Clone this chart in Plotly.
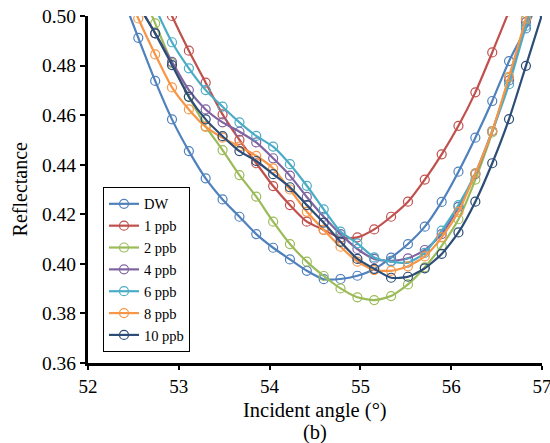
import plotly.graph_objects as go

angles = [52.368, 52.554, 52.740, 52.925, 53.111, 53.296, 53.482, 53.668, 53.853,
          54.039, 54.224, 54.410, 54.596, 54.781, 54.967, 55.152, 55.338, 55.524,
          55.709, 55.895, 56.080, 56.266, 56.452, 56.637, 56.823, 57.008]

dw = [0.509, 0.4912, 0.4738, 0.4583, 0.4455, 0.4345, 0.4260, 0.4190, 0.4120, 0.4065,
      0.4018, 0.3972, 0.3938, 0.3939, 0.3952, 0.3978, 0.4025, 0.4080, 0.4150, 0.4250,
      0.4372, 0.4509, 0.4657, 0.4818, 0.4950, 0.510]
ppb1 = [0.548, 0.531, 0.515, 0.500, 0.4860, 0.4731, 0.4603, 0.4500, 0.4406, 0.4314,
        0.4237, 0.4170, 0.4137, 0.4105, 0.4107, 0.4139, 0.4190, 0.4251, 0.4340, 0.4442,
        0.4557, 0.4692, 0.4853, 0.502, 0.520, 0.540]
ppb2 = [0.530, 0.513, 0.4970, 0.4810, 0.4675, 0.4555, 0.4459, 0.4358, 0.4271, 0.4170,
        0.4080, 0.4009, 0.3951, 0.3901, 0.3865, 0.3854, 0.3870, 0.3917, 0.3986, 0.4073,
        0.4180, 0.4340, 0.4530, 0.4750, 0.4985, 0.522]
ppb4 = [0.520, 0.505, 0.4930, 0.4815, 0.4701, 0.4623, 0.4571, 0.4533, 0.4490, 0.4426,
        0.4356, 0.4270, 0.4190, 0.4120, 0.4060, 0.4020, 0.4012, 0.4022, 0.4056, 0.4120,
        0.4230, 0.4362, 0.4536, 0.4740, 0.4975, 0.520]
ppb6 = [0.540, 0.520, 0.5035, 0.4894, 0.4789, 0.4701, 0.4634, 0.4571, 0.4516, 0.4473,
        0.4402, 0.4315, 0.4220, 0.4130, 0.4083, 0.4026, 0.4009, 0.4005, 0.4044, 0.4134,
        0.4237, 0.4365, 0.4536, 0.4725, 0.4960, 0.520]
ppb8 = [0.515, 0.4990, 0.4845, 0.4712, 0.4623, 0.4553, 0.4509, 0.4473, 0.4436, 0.4385,
        0.4300, 0.4210, 0.4137, 0.4069, 0.4009, 0.3975, 0.3972, 0.3990, 0.4030, 0.4107,
        0.4210, 0.4365, 0.4536, 0.4755, 0.4990, 0.525]
ppb10 = [0.520, 0.5045, 0.4930, 0.4802, 0.4674, 0.4583, 0.4515, 0.4455, 0.4415, 0.4362,
         0.4309, 0.4237, 0.4166, 0.4089, 0.4020, 0.3980, 0.3944, 0.3948, 0.3982, 0.4040,
         0.4127, 0.4251, 0.4406, 0.4584, 0.4799, 0.5015]

names = ["DW", "1 ppb", "2 ppb", "4 ppb", "6 ppb", "8 ppb", "10 ppb"]
series = [dw, ppb1, ppb2, ppb4, ppb6, ppb8, ppb10]
colors = ["#4F81BD", "#C0504D", "#9BBB59", "#8064A2", "#4BACC6", "#F79646", "#2C4D75"]

xticks = [52, 53, 54, 55, 56, 57]
yticks = [0.36, 0.38, 0.40, 0.42, 0.44, 0.46, 0.48, 0.50]
x_title = "Incident angle (°)"
sub_label = "(b)"
y_title = "Reflectance"

FONT = "Liberation Serif"

fig = go.Figure()
for name, ys, c in zip(names, series, colors):
    fig.add_trace(go.Scatter(
        x=angles, y=ys, name=name, mode="lines+markers",
        line=dict(color=c, width=2.2, shape="spline", smoothing=0.6),
        marker=dict(symbol="circle-open", size=9, color=c, line=dict(width=1.2, color=c)),
    ))

fig.update_layout(
    width=550, height=443,
    margin=dict(l=88, r=8, t=16, b=80, autoexpand=False),
    paper_bgcolor="white", plot_bgcolor="white",
    font=dict(family=FONT, size=17, color="black"),
    legend=dict(
        x=0.033, y=0.032, xanchor="left", yanchor="bottom",
        bordercolor="black", borderwidth=1, bgcolor="white",
        font=dict(family=FONT, size=14.5, color="black"),
        tracegroupgap=0, itemwidth=30,
    ),
    xaxis=dict(
        range=[52, 57], tickmode="array", tickvals=xticks,
        ticktext=[str(v) for v in xticks],
        showline=True, linecolor="black", linewidth=3,
        ticks="outside", ticklen=4, tickwidth=2, tickcolor="black",
        showgrid=False, zeroline=False, automargin=False,
        ticklabeloverflow="allow",
        tickfont=dict(family=FONT, size=19),
    ),
    yaxis=dict(
        range=[0.36, 0.50], tickmode="array", tickvals=yticks,
        ticktext=[f"{v:.2f}" for v in yticks],
        showline=True, linecolor="black", linewidth=3,
        ticks="outside", ticklen=5, tickwidth=2, tickcolor="black",
        showgrid=False, zeroline=False, automargin=False,
        ticklabeloverflow="allow",
        tickfont=dict(family=FONT, size=19.5),
    ),
    annotations=[
        dict(text=x_title, xref="paper", yref="paper", x=0.5, y=-0.138,
             xanchor="center", yanchor="middle", showarrow=False,
             font=dict(family=FONT, size=20.5)),
        dict(text=sub_label, xref="paper", yref="paper", x=0.5, y=-0.199,
             xanchor="center", yanchor="middle", showarrow=False,
             font=dict(family=FONT, size=20.5)),
        dict(text=y_title, xref="paper", yref="paper", x=-0.150, y=0.5,
             xanchor="center", yanchor="middle", showarrow=False, textangle=-90,
             font=dict(family=FONT, size=20)),
    ],
)

fig.write_html("out.html")
